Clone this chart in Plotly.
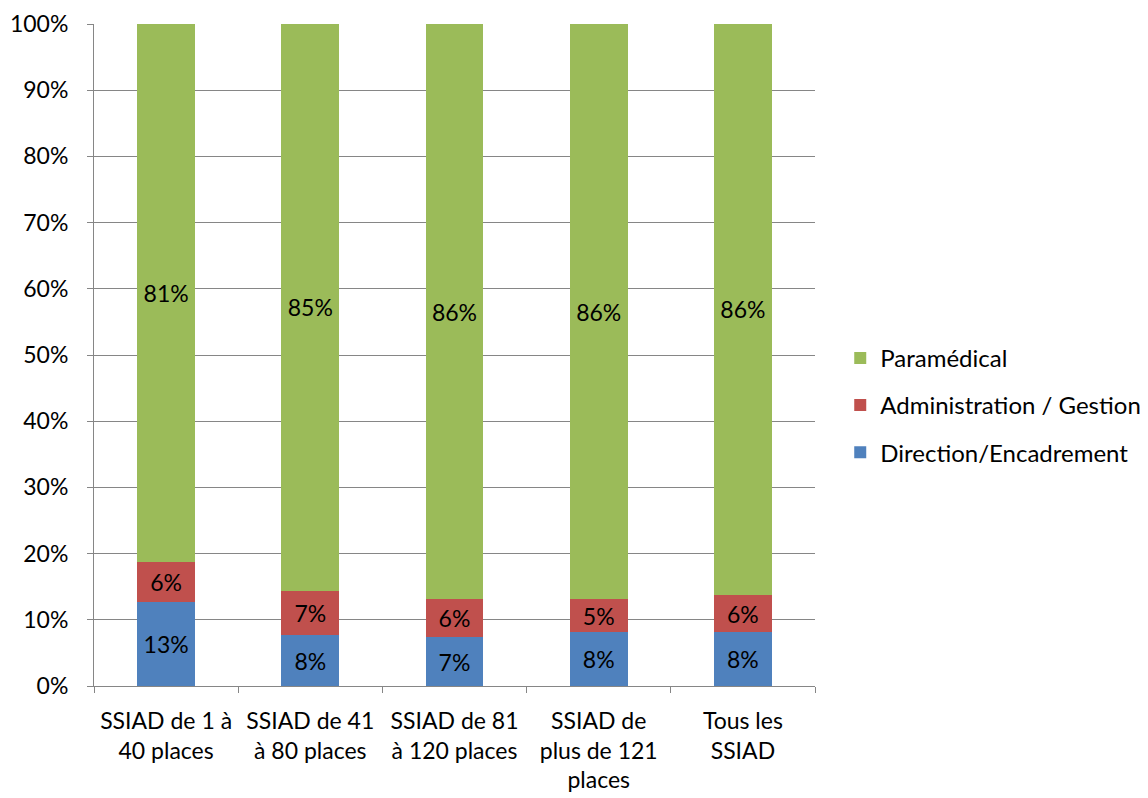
import plotly.graph_objects as go

categories = ["SSIAD de 1 à<br>40 places", "SSIAD de 41<br>à 80 places", "SSIAD de 81<br>à 120 places",
              "SSIAD de<br>plus de 121<br>places", "Tous les<br>SSIAD"]
direction = [12.7, 7.7, 7.4, 8.1, 8.1]
administration = [6.0, 6.7, 5.7, 5.0, 5.7]
paramedical = [81.3, 85.6, 86.9, 86.9, 86.2]
direction_labels = ["13%", "8%", "7%", "8%", "8%"]
administration_labels = ["6%", "7%", "6%", "5%", "6%"]
paramedical_labels = ["81%", "85%", "86%", "86%", "86%"]
y_ticks = [0, 10, 20, 30, 40, 50, 60, 70, 80, 90, 100]
y_tick_labels = ["0%", "10%", "20%", "30%", "40%", "50%", "60%", "70%", "80%", "90%", "100%"]

FONT = "Lato"
FS = 23
GRID = "#868686"

fig = go.Figure()
series = [
    ("Direction/Encadrement", direction, direction_labels, "#4F81BD", 3),
    ("Administration / Gestion", administration, administration_labels, "#C0504D", 2),
    ("Paramédical", paramedical, paramedical_labels, "#9BBB59", 1),
]
for name, vals, labels, color, rank in series:
    fig.add_trace(go.Bar(
        name=name, x=categories, y=vals, text=labels,
        textposition="inside", insidetextanchor="middle", constraintext="none",
        textfont=dict(family=FONT, size=FS, color="black"),
        marker=dict(color=color, line=dict(width=0)),
        legendgroup=name, legendrank=rank, hoverinfo="skip",
    ))

fig.update_layout(
    barmode="stack", bargap=0.6,
    width=1140, height=790,
    margin=dict(l=86, r=333, t=16, b=112, autoexpand=False),
    plot_bgcolor="white", paper_bgcolor="white",
    font=dict(family=FONT, size=FS, color="black"),
    showlegend=True,
    legend=dict(x=1.035, xanchor="left", y=0.424, yanchor="middle",
                traceorder="grouped", tracegroupgap=13,
                font=dict(family=FONT, size=24, color="black"),
                bgcolor="rgba(0,0,0,0)"),
)
fig.update_xaxes(
    type="category", tickson="boundaries", ticks="outside", ticklen=6, tickcolor=GRID,
    showline=True, linecolor=GRID, linewidth=1, showgrid=False, automargin=False,
    tickfont=dict(family=FONT, size=FS, color="black"), ticklabelstandoff=14,
)
fig.update_yaxes(
    range=[0, 100], tickvals=y_ticks, ticktext=y_tick_labels,
    ticks="outside", ticklen=6, tickcolor=GRID, automargin=False,
    showline=True, linecolor=GRID, linewidth=1,
    showgrid=True, gridcolor=GRID, gridwidth=1, zeroline=False,
    tickfont=dict(family=FONT, size=FS, color="black"), ticklabelstandoff=14,
)

fig.write_html("out.html")
